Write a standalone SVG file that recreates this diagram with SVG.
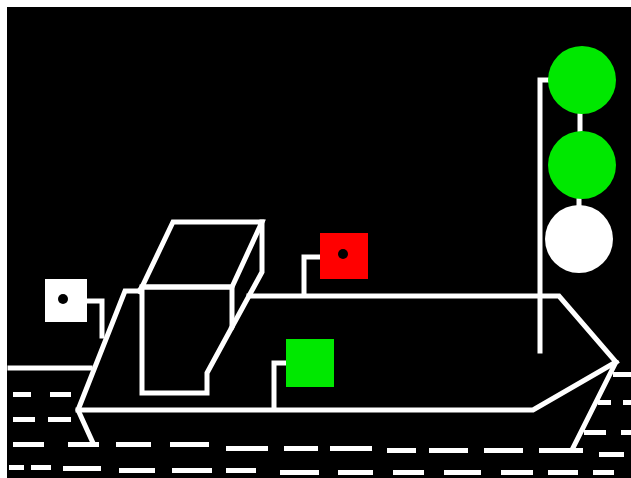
<svg xmlns="http://www.w3.org/2000/svg" width="631" height="478" viewBox="0 0 631 478">
  <style>
    .ln { fill: none; stroke: #ffffff; stroke-width: 5; stroke-linejoin: miter; stroke-linecap: square; }
    .dash { fill: #ffffff; }
    .dot { fill: #000000; }
  </style>
  <!-- frame and night sky -->
  <rect x="0" y="0" width="631" height="478" fill="#ffffff"/>
  <rect x="7" y="7" width="624" height="471" fill="#000000"/>

  <!-- shoreline -->
  <g id="shore">
    <line class="ln" x1="10" y1="368" x2="90" y2="368"/>
  </g>

  <!-- hull outline -->
  <g id="hull">
    <polyline class="ln" points="139,291 125,291 78,410 93,443"/>
    <polyline class="ln" points="78,410 533,410 616,362 559,296 249,296"/>
    <line class="ln" x1="616" y1="362" x2="573" y2="448"/>
  </g>

  <!-- wheelhouse drawn as a box -->
  <g id="cabin">
    <polygon class="ln" points="173,222 262,222 232,287 142,287"/>
    <line class="ln" x1="142" y1="287" x2="139" y2="291"/>
    <polygon class="ln" points="142,287 232,287 232,327 207,373 207,393 142,393"/>
    <polyline class="ln" points="262,222 262,272 232,327"/>
  </g>

  <!-- mast -->
  <g id="mast">
    <polyline class="ln" points="548,80 540,80 540,351"/>
  </g>

  <!-- connectors between lights and vessel -->
  <g id="connectors">
    <polyline class="ln" points="87,301 102,301 102,336"/>
    <polyline class="ln" points="320,257 304,257 304,294"/>
    <polyline class="ln" points="286,363 274,363 274,408"/>
    <line class="ln" x1="580" y1="112" x2="580" y2="132"/>
    <line class="ln" x1="579" y1="197" x2="579" y2="207"/>
  </g>

  <!-- stern light -->
  <g id="stern-light">
    <rect x="45" y="279" width="42" height="43" fill="#ffffff"/>
    <circle class="dot" cx="63" cy="299" r="5"/>
  </g>

  <!-- port light -->
  <g id="port-light">
    <rect x="320" y="233" width="48" height="46" fill="#ff0000"/>
    <circle class="dot" cx="343" cy="254" r="5"/>
  </g>

  <!-- starboard light -->
  <g id="starboard-light">
    <rect x="286" y="339" width="48" height="48" fill="#00e800"/>
  </g>

  <!-- mast signal lights -->
  <g id="signal-top">
    <circle cx="582" cy="80" r="34" fill="#00e800"/>
  </g>
  <g id="signal-middle">
    <circle cx="582" cy="165" r="34" fill="#00e800"/>
  </g>
  <g id="signal-bottom">
    <circle cx="579" cy="239" r="34" fill="#ffffff"/>
  </g>

  <!-- water ripples -->
  <g id="water" class="dash">
    <rect x="13" y="392" width="18" height="5"/>
    <rect x="50" y="392" width="21" height="5"/>
    <rect x="13" y="417" width="22" height="5"/>
    <rect x="48" y="417" width="23" height="5"/>

    <rect x="13" y="442" width="31" height="5"/>
    <rect x="68" y="442" width="31" height="5"/>
    <rect x="116" y="442" width="35" height="5"/>
    <rect x="170" y="442" width="39" height="5"/>
    <rect x="226" y="446" width="42" height="5"/>
    <rect x="284" y="446" width="34" height="5"/>
    <rect x="330" y="446" width="42" height="5"/>
    <rect x="387" y="448" width="29" height="5"/>
    <rect x="429" y="448" width="39" height="5"/>
    <rect x="484" y="448" width="39" height="5"/>
    <rect x="539" y="448" width="44" height="5"/>
    <rect x="599" y="452" width="25" height="5"/>

    <rect x="9" y="465" width="15" height="5"/>
    <rect x="31" y="465" width="20" height="5"/>
    <rect x="63" y="466" width="38" height="5"/>
    <rect x="119" y="468" width="36" height="5"/>
    <rect x="172" y="468" width="40" height="5"/>
    <rect x="226" y="468" width="30" height="5"/>
    <rect x="280" y="470" width="39" height="5"/>
    <rect x="338" y="470" width="35" height="5"/>
    <rect x="393" y="470" width="31" height="5"/>
    <rect x="444" y="470" width="37" height="5"/>
    <rect x="501" y="470" width="32" height="5"/>
    <rect x="548" y="470" width="30" height="5"/>
    <rect x="593" y="470" width="21" height="5"/>

    <rect x="613" y="372" width="18" height="5"/>
    <rect x="598" y="400" width="13" height="5"/>
    <rect x="623" y="400" width="8" height="5"/>
    <rect x="584" y="430" width="22" height="5"/>
    <rect x="621" y="430" width="10" height="5"/>
  </g>
</svg>
